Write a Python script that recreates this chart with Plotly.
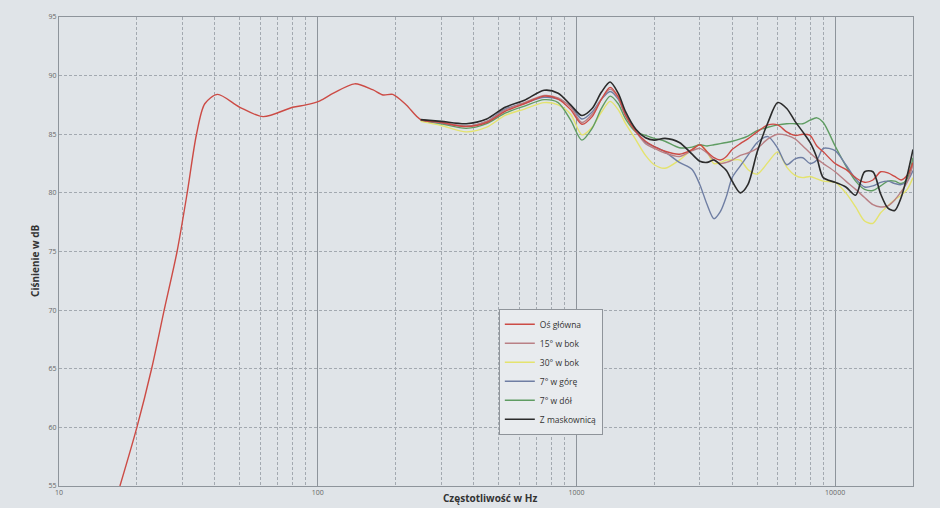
import plotly.graph_objects as go

# ---- data ----
freq_low = [17.2, 20, 22.8, 25.5, 28.6, 31.3, 34, 36.6, 41, 50, 61.5, 80, 90, 102, 115, 139, 163, 179, 195, 220]
main_low = [55, 60, 65, 70, 75, 80, 85, 87.6, 88.4, 87.3, 86.5, 87.3, 87.5, 87.85, 88.5, 89.3, 88.8, 88.35, 88.4, 87.5]

freqs = [250, 300, 375, 450, 530, 630, 750, 850, 950, 1050, 1150, 1250, 1350, 1450, 1550, 1700,
         1850, 2000, 2200, 2500, 2800, 3000, 3200, 3400, 3600, 3800, 4000, 4300, 4600, 5000, 5500,
         6000, 6500, 7000, 7500, 8000, 8500, 9000, 10000, 11000, 12000, 13000, 14000, 15000, 16000,
         17000, 18000, 19000, 20000]

os_glowna = [86.25, 86.0, 85.65, 86.0, 86.95, 87.6, 88.25, 88.0, 87.1, 85.85, 86.5, 88.0, 89.0, 88.2, 86.6, 85.2,
             84.4, 83.95, 83.55, 83.3, 83.7, 84.1, 83.5, 83.0, 82.8, 83.1, 83.7, 84.2, 84.6, 85.2, 85.8,
             85.8, 85.2, 84.9, 85.0, 84.9, 84.0, 83.5, 82.5, 82.0, 81.3, 80.9, 81.1, 81.8, 81.7,
             81.4, 81.1, 81.5, 82.6]
bok15 = [86.25, 86.0, 85.7, 86.1, 87.05, 87.7, 88.3, 88.1, 87.3, 86.0, 86.7, 88.0, 88.85, 88.1, 86.6, 85.2,
         84.2, 83.8, 83.4, 83.1, 83.6, 83.8, 83.4, 82.8, 82.5, 82.6, 82.8, 83.2, 83.4, 83.8, 84.6,
         85.0, 84.9, 84.6, 84.0, 83.4, 82.9, 82.5, 81.8, 81.0, 80.3, 79.6, 79.0, 78.8, 78.9,
         79.4, 80.1, 80.9, 82.4]
bok30 = [86.1, 85.75, 85.2, 85.6, 86.6, 87.15, 87.7, 87.5, 86.7, 84.95, 85.6, 86.9, 87.8, 87.1, 85.9, 84.5,
         83.2, 82.4, 82.1, 82.8, 83.7, 84.1, 83.5, 82.5, 82.6, 82.8, 82.8, 82.8, 82.0, 81.6, 82.6,
         83.5, 82.2, 81.5, 81.3, 81.4, 81.2, 81.0, 80.9, 80.0, 78.8, 77.6, 77.4, 78.3, 78.9,
         79.4, 79.8, 80.3, 81.3]
gora7 = [86.25, 85.95, 85.7, 86.1, 87.15, 87.65, 88.15, 88.0, 87.4, 86.3, 86.9, 88.0, 88.65, 88.0, 86.6, 85.3,
         84.3, 83.95, 83.5, 82.6, 82.0, 80.7, 79.0, 77.8, 78.4, 79.7, 81.3, 82.3, 83.2, 84.3, 84.8,
         83.8, 82.4, 82.9, 83.0, 82.5, 82.8, 83.8, 83.6, 82.4, 81.2, 80.5, 80.6, 80.9, 81.0,
         80.8, 80.7, 81.0, 81.9]
dol7 = [86.2, 85.9, 85.5, 85.9, 86.8, 87.4, 87.95, 87.7, 86.2, 84.5, 85.5, 87.2, 88.25, 87.6, 86.3, 85.2,
        84.9, 84.65, 84.4, 83.85, 83.9, 84.1, 84.0, 84.1, 84.2, 84.3, 84.4, 84.6, 84.85, 85.3, 85.6,
        85.8, 85.9, 85.9, 85.9, 86.2, 86.4, 86.0, 84.0, 82.3, 81.0, 80.3, 80.2, 80.6, 81.0,
        81.0, 80.8, 81.2, 83.0]
maskownica = [86.25, 86.1, 85.9, 86.3, 87.3, 87.9, 88.75, 88.5, 87.5, 86.6, 87.2, 88.6, 89.45, 88.5, 86.9, 85.4,
              84.7, 84.5, 84.65, 84.3, 83.3, 82.7, 82.6, 82.8, 82.4, 81.9, 81.0, 80.0, 80.7, 83.5, 86.0,
              87.7, 87.2, 86.1, 85.2, 84.3, 83.0, 81.3, 80.9, 80.5, 79.8, 81.8, 81.8, 79.9, 78.7,
              78.5, 79.6, 81.5, 83.7]

series_names = ["Oś główna", "15° w bok", "30° w bok", "7° w górę", "7° w dół", "Z maskownicą"]
series_colors = ["#cc4b45", "#b98085", "#e4e36e", "#6f7ea3", "#5f9c62", "#2b2b2b"]

x_ticks = [10, 100, 1000, 10000]
x_minor = [m * d for d in (10, 100, 1000) for m in range(2, 10)] + [20000]
y_ticks = [55, 60, 65, 70, 75, 80, 85, 90, 95]

# ---- figure ----
fig = go.Figure()
all_series = [
    (freq_low + freqs, main_low + os_glowna),
    (freqs, bok15),
    (freqs, bok30),
    (freqs, gora7),
    (freqs, dol7),
    (freqs, maskownica),
]
order = [2, 4, 3, 1, 0, 5]
traces = {}
for i in range(6):
    xs, ys = all_series[i]
    traces[i] = go.Scatter(
        x=xs, y=ys, name=series_names[i], mode="lines",
        line=dict(color=series_colors[i], width=1.4 if i != 5 else 1.6, shape="spline", smoothing=0.8),
        legendrank=i + 1,
    )
for i in order:
    fig.add_trace(traces[i])

bg = "#e0e4e8"
grid = "#a3a9b0"
fig.update_layout(
    width=940, height=508,
    paper_bgcolor=bg, plot_bgcolor=bg,
    margin=dict(l=59, r=27, t=17, b=22),
    font=dict(family="Open Sans, Liberation Sans, sans-serif", color="#555"),
    showlegend=True,
    legend=dict(
        x=0.515, y=0.378, xanchor="left", yanchor="top",
        bgcolor="#e8ebee", bordercolor="#8f949a", borderwidth=1,
        font=dict(size=8.5, color="#333"), tracegroupgap=0, itemwidth=30,
        traceorder="normal",
    ),
)
fig.update_xaxes(
    type="log", range=[1, 4.30103],
    tickvals=x_ticks, ticktext=[str(v) for v in x_ticks],
    tickfont=dict(size=7, color="#666"),
    showgrid=True, gridcolor="#8e949b", gridwidth=1, griddash="solid",
    minor=dict(tickvals=x_minor, showgrid=True, gridcolor=grid, gridwidth=1, griddash="3px,2px", ticks=""),
    showline=True, linecolor="#8e949b", linewidth=1, mirror=True,
    zeroline=False, ticks="",
)
fig.update_yaxes(
    range=[55, 95], tickvals=y_ticks,
    tickfont=dict(size=7, color="#666"),
    showgrid=True, gridcolor=grid, gridwidth=1, griddash="3px,2px",
    showline=True, linecolor="#8e949b", linewidth=1, mirror=True,
    zeroline=False, ticks="",
)
fig.add_annotation(
    text="<b>Częstotliwość w Hz</b>", xref="paper", yref="paper",
    x=0.505, y=-0.026, xanchor="center", yanchor="middle", showarrow=False,
    font=dict(size=10, color="#333"),
)
fig.add_annotation(
    text="<b>Ciśnienie w dB</b>", xref="paper", yref="paper",
    x=-0.028, y=0.48, xanchor="center", yanchor="middle", showarrow=False,
    textangle=-90, font=dict(size=10, color="#333"),
)

fig.write_html(
    "out.html",
    config={"displayModeBar": False},
    post_script="document.body.style.margin='0';document.body.style.background='%s';" % bg,
)
